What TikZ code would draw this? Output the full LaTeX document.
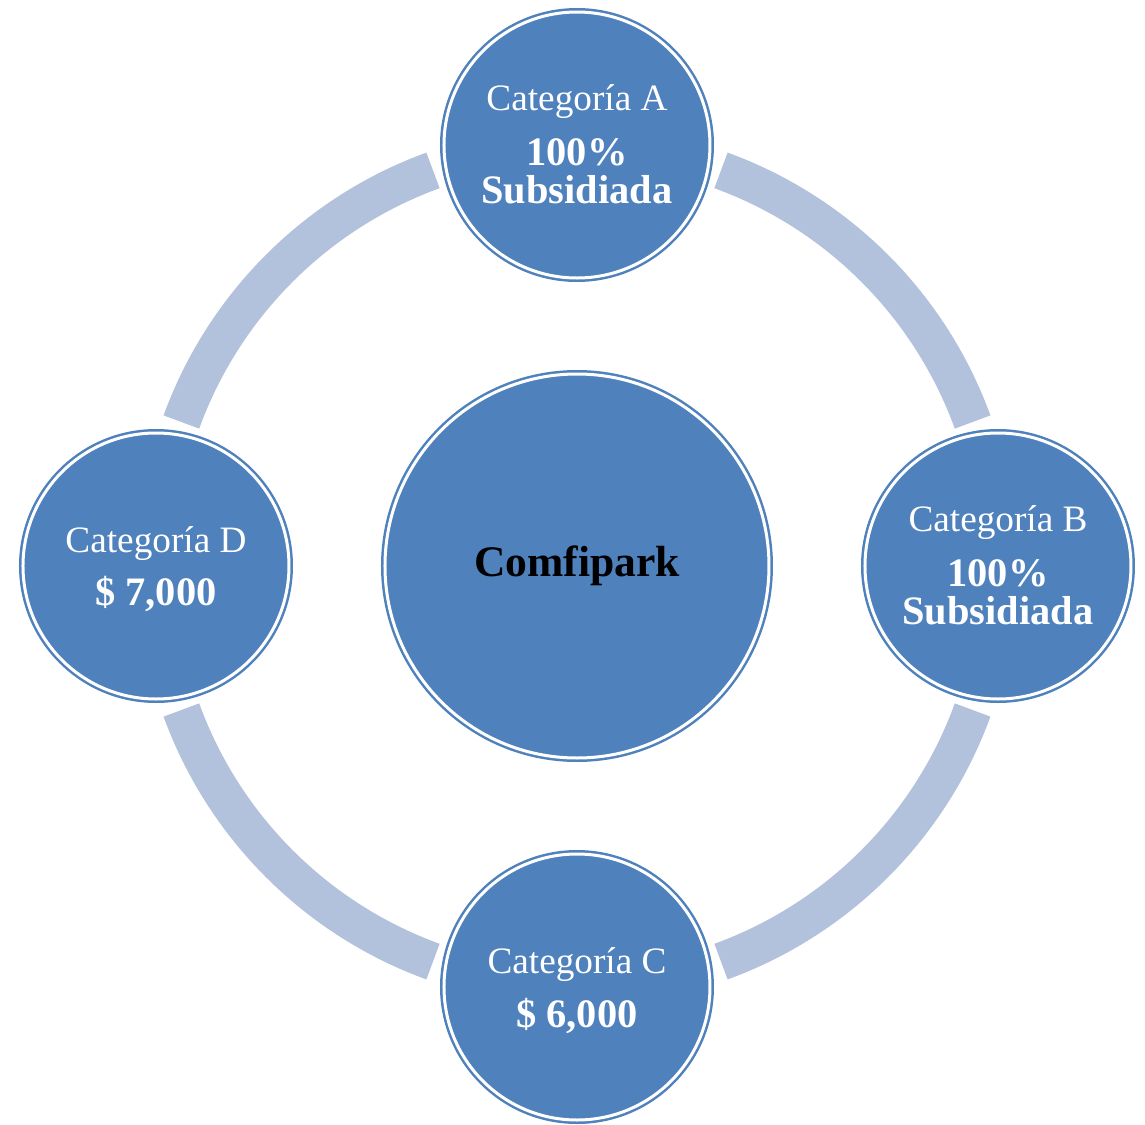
\documentclass[tikz,border=0pt]{standalone}
\usepackage{fontspec}
\setmainfont{Liberation Serif}
\usetikzlibrary{positioning}
\definecolor{circblue}{RGB}{79,129,189}
\definecolor{ringblue}{RGB}{178,193,220}

\begin{document}
\begin{tikzpicture}[
  hub/.style={circle, fill=circblue, draw=circblue, double=white,
              line width=0.25mm, double distance=0.3mm, inner sep=0pt,
              minimum size=38.4mm, font=\fontsize{12.4}{14}\selectfont\bfseries},
  cat/.style={hub, minimum size=26.6mm},
  ring/.style={draw=ringblue, line width=3.8mm},
  catname/.style={anchor=base, text=white, font=\fontsize{10.6}{12}\selectfont},
  catval/.style={anchor=base, text=white, font=\fontsize{11.5}{13}\selectfont\bfseries},
  node distance=42.1mm, on grid
]
  \useasboundingbox (-5.77,-5.59) rectangle (5.68,5.66);

  % Hub in the middle
  \node[hub] (park) {Comfipark};

  % Ring pieces between the categories
  \draw[ring] (park.center) ++(20:42.1mm) arc[start angle=20, end angle=70, radius=42.1mm];
  \draw[ring] (park.center) ++(110:42.1mm) arc[start angle=110, end angle=160, radius=42.1mm];
  \draw[ring] (park.center) ++(200:42.1mm) arc[start angle=200, end angle=250, radius=42.1mm];
  \draw[ring] (park.center) ++(290:42.1mm) arc[start angle=290, end angle=340, radius=42.1mm];

  % Categories around the hub
  \node[cat, above=of park] (catA) {};
  \node[cat, right=of park] (catB) {};
  \node[cat, below=of park] (catC) {};
  \node[cat, left=of park] (catD) {};

  % Texts of the categories
  \node[catname] (nameA) at ([yshift=3.5mm]catA.center) {Categoría A};
  \node[catval] (valA) at ([yshift=-2.0mm]catA.center) {100\%};
  \node[catval] (subA) at ([yshift=-5.8mm]catA.center) {Subsidiada};

  \node[catname] (nameB) at ([yshift=3.5mm]catB.center) {Categoría B};
  \node[catval] (valB) at ([yshift=-2.0mm]catB.center) {100\%};
  \node[catval] (subB) at ([yshift=-5.8mm]catB.center) {Subsidiada};

  \node[catname] (nameC) at ([yshift=1.4mm]catC.center) {Categoría C};
  \node[catval] (valC) at ([yshift=-4.0mm]catC.center) {\$ 6,000};

  \node[catname] (nameD) at ([yshift=1.4mm]catD.center) {Categoría D};
  \node[catval] (valD) at ([yshift=-3.9mm]catD.center) {\$ 7,000};
\end{tikzpicture}
\end{document}
